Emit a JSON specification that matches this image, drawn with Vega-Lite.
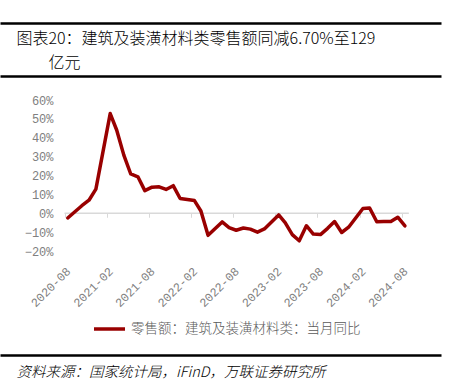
{
  "$schema": "https://vega.github.io/schema/vega-lite/v6.json",
  "width": 441,
  "height": 151,
  "autosize": {"type": "none"},
  "padding": {"left": 0, "top": 100, "right": 12, "bottom": 140},
  "background": "white",
  "config": {"view": {"stroke": null}, "axis": {"grid": false}},
  "resolve": {"axis": {"x": "independent", "y": "independent"}},
  "layer": [
    {
      "data": {"values": [{}]},
      "mark": {"type": "rule", "color": "#d9d9d9", "strokeWidth": 1.5},
      "encoding": {
        "x": {
          "datum": {"year": 2020, "month": 8, "date": 1, "utc": true},
          "type": "temporal",
          "scale": {"type": "utc", "nice": false, "domain": [{"year": 2019, "month": 10, "date": 26, "hours": 12, "utc": true}, {"year": 2025, "month": 1, "date": 18, "hours": 7, "utc": true}]},
          "axis": {
            "orient": "bottom", "offset": -37.75,
            "values": [
              {"year": 2020, "month": 8, "date": 1, "utc": true},
              {"year": 2021, "month": 2, "date": 1, "utc": true},
              {"year": 2021, "month": 8, "date": 1, "utc": true},
              {"year": 2022, "month": 2, "date": 1, "utc": true},
              {"year": 2022, "month": 8, "date": 1, "utc": true},
              {"year": 2023, "month": 2, "date": 1, "utc": true},
              {"year": 2023, "month": 8, "date": 1, "utc": true},
              {"year": 2024, "month": 2, "date": 1, "utc": true},
              {"year": 2024, "month": 8, "date": 1, "utc": true}
            ],
            "labelExpr": "utcFormat(datum.value, '%Y-%m')",
            "domain": false, "ticks": true, "tickSize": 4, "tickColor": "#d9d9d9", "tickWidth": 1,
            "labelAngle": -45, "labelPadding": 48, "labelFlush": false, "labelOverlap": false,
            "labelFont": "Liberation Mono", "labelFontSize": 12, "labelColor": "#808080",
            "title": null
          }
        },
        "x2": {"datum": {"year": 2024, "month": 9, "date": 1, "utc": true}},
        "y": {
          "datum": 0, "type": "quantitative",
          "scale": {"domain": [-20, 60], "nice": false, "zero": false},
          "axis": {
            "orient": "left", "offset": -55,
            "values": [-20, -10, 0, 10, 20, 30, 40, 50, 60],
            "labelExpr": "format(datum.value, 'd') + '%'",
            "domain": false, "ticks": false, "labelPadding": 2,
            "labelFont": "Liberation Mono", "labelFontSize": 12, "labelColor": "#808080",
            "title": null
          }
        }
      }
    },
    {
      "data": {"values": [
        {"date": "2020-08-15", "yoy": -2.5, "series": "零售额：建筑及装潢材料类：当月同比"},
        {"date": "2020-09-15", "yoy": 0.8, "series": "零售额：建筑及装潢材料类：当月同比"},
        {"date": "2020-10-15", "yoy": 4.0, "series": "零售额：建筑及装潢材料类：当月同比"},
        {"date": "2020-11-15", "yoy": 6.9, "series": "零售额：建筑及装潢材料类：当月同比"},
        {"date": "2020-12-15", "yoy": 12.8, "series": "零售额：建筑及装潢材料类：当月同比"},
        {"date": "2021-02-15", "yoy": 52.8, "series": "零售额：建筑及装潢材料类：当月同比"},
        {"date": "2021-03-15", "yoy": 44.1, "series": "零售额：建筑及装潢材料类：当月同比"},
        {"date": "2021-04-15", "yoy": 30.8, "series": "零售额：建筑及装潢材料类：当月同比"},
        {"date": "2021-05-15", "yoy": 20.8, "series": "零售额：建筑及装潢材料类：当月同比"},
        {"date": "2021-06-15", "yoy": 19.3, "series": "零售额：建筑及装潢材料类：当月同比"},
        {"date": "2021-07-15", "yoy": 12.0, "series": "零售额：建筑及装潢材料类：当月同比"},
        {"date": "2021-08-15", "yoy": 13.8, "series": "零售额：建筑及装潢材料类：当月同比"},
        {"date": "2021-09-15", "yoy": 14.0, "series": "零售额：建筑及装潢材料类：当月同比"},
        {"date": "2021-10-15", "yoy": 12.6, "series": "零售额：建筑及装潢材料类：当月同比"},
        {"date": "2021-11-15", "yoy": 14.6, "series": "零售额：建筑及装潢材料类：当月同比"},
        {"date": "2021-12-15", "yoy": 7.8, "series": "零售额：建筑及装潢材料类：当月同比"},
        {"date": "2022-02-15", "yoy": 6.7, "series": "零售额：建筑及装潢材料类：当月同比"},
        {"date": "2022-03-15", "yoy": 1.2, "series": "零售额：建筑及装潢材料类：当月同比"},
        {"date": "2022-04-15", "yoy": -11.7, "series": "零售额：建筑及装潢材料类：当月同比"},
        {"date": "2022-05-15", "yoy": -8.2, "series": "零售额：建筑及装潢材料类：当月同比"},
        {"date": "2022-06-15", "yoy": -4.6, "series": "零售额：建筑及装潢材料类：当月同比"},
        {"date": "2022-07-15", "yoy": -7.6, "series": "零售额：建筑及装潢材料类：当月同比"},
        {"date": "2022-08-15", "yoy": -9.0, "series": "零售额：建筑及装潢材料类：当月同比"},
        {"date": "2022-09-15", "yoy": -7.8, "series": "零售额：建筑及装潢材料类：当月同比"},
        {"date": "2022-10-15", "yoy": -8.4, "series": "零售额：建筑及装潢材料类：当月同比"},
        {"date": "2022-11-15", "yoy": -10.0, "series": "零售额：建筑及装潢材料类：当月同比"},
        {"date": "2022-12-15", "yoy": -8.3, "series": "零售额：建筑及装潢材料类：当月同比"},
        {"date": "2023-02-15", "yoy": -0.9, "series": "零售额：建筑及装潢材料类：当月同比"},
        {"date": "2023-03-15", "yoy": -5.0, "series": "零售额：建筑及装潢材料类：当月同比"},
        {"date": "2023-04-15", "yoy": -11.3, "series": "零售额：建筑及装潢材料类：当月同比"},
        {"date": "2023-05-15", "yoy": -14.6, "series": "零售额：建筑及装潢材料类：当月同比"},
        {"date": "2023-06-15", "yoy": -6.6, "series": "零售额：建筑及装潢材料类：当月同比"},
        {"date": "2023-07-15", "yoy": -11.0, "series": "零售额：建筑及装潢材料类：当月同比"},
        {"date": "2023-08-15", "yoy": -11.3, "series": "零售额：建筑及装潢材料类：当月同比"},
        {"date": "2023-09-15", "yoy": -8.0, "series": "零售额：建筑及装潢材料类：当月同比"},
        {"date": "2023-10-15", "yoy": -4.4, "series": "零售额：建筑及装潢材料类：当月同比"},
        {"date": "2023-11-15", "yoy": -10.2, "series": "零售额：建筑及装潢材料类：当月同比"},
        {"date": "2023-12-15", "yoy": -7.4, "series": "零售额：建筑及装潢材料类：当月同比"},
        {"date": "2024-02-15", "yoy": 2.5, "series": "零售额：建筑及装潢材料类：当月同比"},
        {"date": "2024-03-15", "yoy": 2.8, "series": "零售额：建筑及装潢材料类：当月同比"},
        {"date": "2024-04-15", "yoy": -4.5, "series": "零售额：建筑及装潢材料类：当月同比"},
        {"date": "2024-05-15", "yoy": -4.4, "series": "零售额：建筑及装潢材料类：当月同比"},
        {"date": "2024-06-15", "yoy": -4.4, "series": "零售额：建筑及装潢材料类：当月同比"},
        {"date": "2024-07-15", "yoy": -2.1, "series": "零售额：建筑及装潢材料类：当月同比"},
        {"date": "2024-08-15", "yoy": -6.7, "series": "零售额：建筑及装潢材料类：当月同比"}
      ]},
      "mark": {"type": "line", "strokeWidth": 3.5, "strokeJoin": "round", "strokeCap": "round"},
      "encoding": {
        "x": {
          "field": "date", "type": "temporal",
          "scale": {"type": "utc", "nice": false, "domain": [{"year": 2019, "month": 10, "date": 26, "hours": 12, "utc": true}, {"year": 2025, "month": 1, "date": 18, "hours": 7, "utc": true}]},
          "axis": {
            "orient": "top", "offset": 24, "domain": true, "domainColor": "#000000", "domainWidth": 2.5, "ticks": false, "labels": false,
            "title": "亿元",
            "titleX": 48, "titleY": -9, "titleAlign": "left", "titleBaseline": "alphabetic", "titleAngle": 0,
            "titleFont": "Noto Sans CJK SC", "titleFontSize": 16, "titleFontWeight": 300, "titleColor": "#000000"
          }
        },
        "y": {"field": "yoy", "type": "quantitative", "scale": {"domain": [-20, 60], "nice": false, "zero": false}, "axis": null},
        "color": {
          "field": "series", "type": "nominal",
          "scale": {"range": ["#990000"]},
          "legend": {
            "orient": "none", "legendX": 92, "legendY": 211.5, "title": null, "padding": 0,
            "symbolType": "stroke", "symbolSize": 961, "symbolStrokeWidth": 3.5,
            "labelFont": "Noto Sans CJK SC", "labelFontSize": 13.5, "labelFontWeight": 300, "labelColor": "#595959",
            "labelOffset": 4, "labelLimit": 400
          }
        }
      }
    },
    {
      "data": {"values": [{}]},
      "mark": {"type": "rule", "opacity": 0},
      "encoding": {
        "x": {
          "datum": {"year": 2020, "month": 8, "date": 1, "utc": true},
          "type": "temporal",
          "scale": {"type": "utc", "nice": false, "domain": [{"year": 2019, "month": 10, "date": 26, "hours": 12, "utc": true}, {"year": 2025, "month": 1, "date": 18, "hours": 7, "utc": true}]},
          "axis": {
            "orient": "top", "offset": 77, "domain": true, "domainColor": "#000000", "domainWidth": 2.5,
            "ticks": false, "labels": false,
            "title": "图表20：建筑及装潢材料类零售额同减6.70%至129",
            "titleX": 16, "titleY": 20, "titleAlign": "left", "titleBaseline": "alphabetic", "titleAngle": 0,
            "titleFont": "Noto Sans CJK SC", "titleFontSize": 16, "titleFontWeight": 300,
            "titleColor": "#000000"
          }
        },
        "y": {"datum": 0, "type": "quantitative", "scale": {"domain": [-20, 60], "nice": false, "zero": false}, "axis": null}
      }
    },
    {
      "data": {"values": [{}]},
      "mark": {"type": "rule", "opacity": 0},
      "encoding": {
        "x": {
          "datum": {"year": 2020, "month": 8, "date": 1, "utc": true},
          "type": "temporal",
          "scale": {"type": "utc", "nice": false, "domain": [{"year": 2019, "month": 10, "date": 26, "hours": 12, "utc": true}, {"year": 2025, "month": 1, "date": 18, "hours": 7, "utc": true}]},
          "axis": {
            "orient": "bottom", "offset": 104, "domain": true, "domainColor": "#000000", "domainWidth": 2.5,
            "ticks": false, "labels": false,
            "title": "资料来源：国家统计局，iFinD，万联证券研究所",
            "titleX": 16, "titleY": 17, "titleAlign": "left", "titleBaseline": "middle", "titleAngle": 0,
            "titleFont": "Noto Sans CJK SC", "titleFontSize": 14.5, "titleFontWeight": 300, "titleFontStyle": "italic",
            "titleColor": "#000000"
          }
        },
        "y": {"datum": 0, "type": "quantitative", "scale": {"domain": [-20, 60], "nice": false, "zero": false}, "axis": null}
      }
    }
  ]
}
